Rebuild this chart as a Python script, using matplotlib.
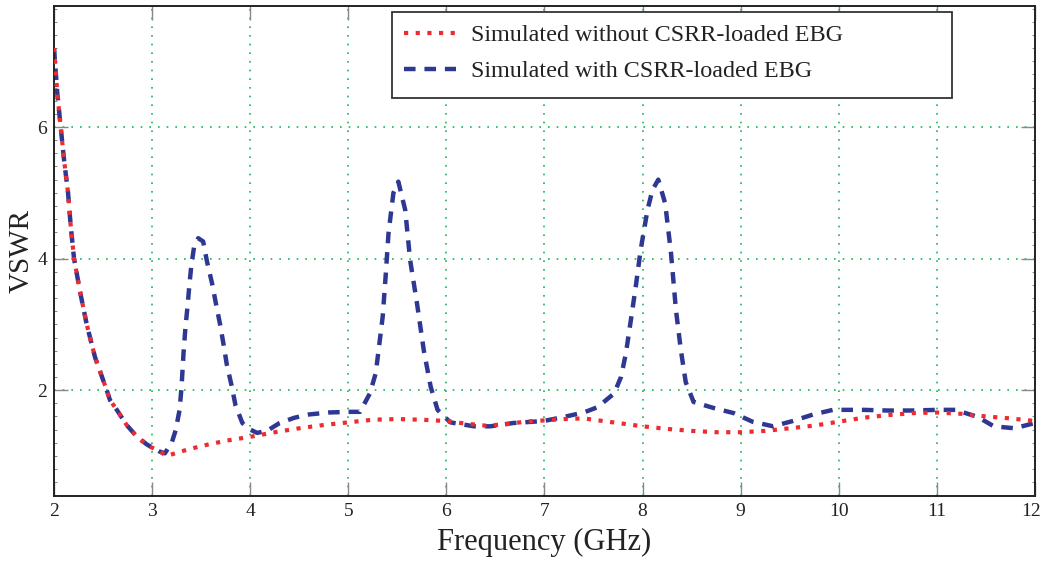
import matplotlib
matplotlib.use("Agg")
import matplotlib.pyplot as plt
from matplotlib.patches import Rectangle
from matplotlib.ticker import MultipleLocator

plt.rcParams['font.family'] = ['Liberation Serif', 'DejaVu Serif']

# VSWR without the CSRR-loaded EBG
freq_ref = [2.00, 2.034, 2.068, 2.102, 2.143, 2.17, 2.204, 2.265, 2.333, 2.418,
            2.537, 2.57, 2.64, 2.74, 2.84, 2.95, 3.05, 3.15, 3.30, 3.50,
            3.75, 4.00, 4.25, 4.50, 4.75, 5.00, 5.25, 5.50, 5.75, 6.00,
            6.20, 6.40, 6.60, 6.80, 7.00, 7.20, 7.40, 7.60, 7.80, 8.00,
            8.25, 8.50, 8.75, 9.00, 9.25, 9.50, 9.75, 10.00, 10.25, 10.50,
            10.75, 11.00, 11.25, 11.50, 11.75, 12.00]
vswr_ref = [7.20, 6.50, 6.00, 5.50, 5.00, 4.50, 4.00, 3.50, 3.00, 2.50,
            2.00, 1.85, 1.70, 1.47, 1.30, 1.16, 1.09, 1.00, 1.07, 1.15,
            1.23, 1.29, 1.36, 1.42, 1.47, 1.51, 1.55, 1.56, 1.55, 1.53,
            1.49, 1.46, 1.48, 1.52, 1.54, 1.56, 1.57, 1.53, 1.49, 1.45,
            1.41, 1.38, 1.36, 1.36, 1.38, 1.42, 1.46, 1.52, 1.58, 1.62,
            1.65, 1.66, 1.64, 1.60, 1.57, 1.53]

# VSWR with the CSRR-loaded EBG (three notches)
freq_ebg = [2.00, 2.034, 2.068, 2.102, 2.143, 2.17, 2.204, 2.265, 2.333, 2.418,
            2.537, 2.57, 2.64, 2.74, 2.84, 2.95, 3.00, 3.07, 3.13, 3.20,
            3.24, 3.28, 3.30, 3.32, 3.34, 3.36, 3.38, 3.40, 3.43, 3.47,
            3.52, 3.56, 3.61, 3.65, 3.69, 3.73, 3.76, 3.81, 3.85, 3.92,
            4.00, 4.07, 4.17, 4.30, 4.45, 4.60, 4.80, 5.00, 5.12, 5.22,
            5.28, 5.35, 5.38, 5.41, 5.46, 5.51, 5.58, 5.63, 5.70, 5.77,
            5.84, 5.91, 6.04, 6.28, 6.45, 6.68, 6.99, 7.19, 7.40, 7.54,
            7.71, 7.78, 7.83, 7.88, 7.93, 7.98, 8.05, 8.10, 8.16, 8.23,
            8.29, 8.34, 8.39, 8.44, 8.52, 8.72, 8.93, 9.12, 9.33, 9.53,
            9.74, 9.94, 10.25, 10.50, 10.75, 11.00, 11.19, 11.42, 11.58, 11.79,
            12.00]
vswr_ebg = [7.20, 6.50, 6.00, 5.50, 5.00, 4.50, 4.00, 3.50, 3.00, 2.50,
            2.00, 1.85, 1.70, 1.47, 1.30, 1.17, 1.13, 1.07, 1.04, 1.20,
            1.39, 1.70, 2.05, 2.56, 2.96, 3.26, 3.60, 3.90, 4.20, 4.31,
            4.26, 3.95, 3.63, 3.32, 3.02, 2.68, 2.40, 2.07, 1.77, 1.50,
            1.40, 1.35, 1.38, 1.50, 1.58, 1.63, 1.66, 1.67, 1.67, 1.95,
            2.26, 3.11, 3.72, 4.39, 5.00, 5.17, 4.74, 3.98, 3.32, 2.60,
            2.05, 1.70, 1.51, 1.45, 1.45, 1.50, 1.53, 1.59, 1.66, 1.74,
            1.95, 2.20, 2.56, 3.06, 3.57, 4.13, 4.74, 5.04, 5.20, 4.84,
            4.08, 3.22, 2.61, 2.12, 1.82, 1.73, 1.65, 1.52, 1.45, 1.53,
            1.63, 1.70, 1.70, 1.69, 1.69, 1.70, 1.70, 1.59, 1.45, 1.42,
            1.50]

freq_ticks = [2, 3, 4, 5, 6, 7, 8, 9, 10, 11, 12]

label_ref = "Simulated without CSRR-loaded EBG"
label_ebg = "Simulated with CSRR-loaded EBG"

fig = plt.figure(figsize=(10.41, 5.62), dpi=100)
ax = fig.add_axes([0.0519, 0.1174, 0.9423, 0.8719])

ax.plot(freq_ref, vswr_ref, color="#ee2b30", lw=3.0, dashes=(1, 1.8),
        label=label_ref, zorder=3)
ax.plot(freq_ebg, vswr_ebg, color="#2e3892", lw=3.2, dashes=(2.6, 2.0),
        label=label_ebg, zorder=2)

ax.set_xlim(2, 12)
ax.set_ylim(0.39, 7.84)
# last label is drawn by hand a little to the left so it is not clipped
ax.set_xticks(freq_ticks, [str(v) for v in freq_ticks[:-1]] + [""])
ax.annotate(str(freq_ticks[-1]), xy=(freq_ticks[-1], 0),
            xycoords=("data", "axes fraction"), xytext=(-3, -5),
            textcoords="offset points", ha="center", va="top",
            fontsize=14, color="#222222")
ax.yaxis.set_major_locator(MultipleLocator(2))
ax.yaxis.set_minor_locator(MultipleLocator(0.2))

ax.grid(True, which="major", color="#14b85a", lw=1.2, linestyle=(0, (1, 4.2)))
ax.set_axisbelow(True)

ax.tick_params(which="major", direction="in", length=10, width=1.0,
               color="#888888", top=True, right=True,
               labelsize=14, labelcolor="#222222", pad=5)
ax.tick_params(which="minor", direction="in", length=2.5, width=0.7,
               color="#888888", left=True, right=True)
for sp in ax.spines.values():
    sp.set_color("#222222")
    sp.set_linewidth(1.4)

ax.set_xlabel("Frequency (GHz)", fontsize=22, color="#222222", labelpad=6)
ax.set_ylabel("VSWR", fontsize=21, color="#222222", labelpad=2)

# legend box is wider than its entries, so the frame is drawn separately
box = Rectangle((0.3445, 0.8122), 0.9154 - 0.3445, 0.9878 - 0.8122,
                transform=ax.transAxes, facecolor="white", edgecolor="#333333",
                lw=1.3, zorder=4)
ax.add_patch(box)
leg = ax.legend(loc="upper left", bbox_to_anchor=(0.3445, 0.9878),
                borderaxespad=0, fontsize=17.4, frameon=False,
                handlelength=2.15, handletextpad=0.6, labelspacing=0.6,
                borderpad=0.5)
leg.set_zorder(5)
for t in leg.get_texts():
    t.set_color("#222222")

fig.savefig("out.png", dpi=100)
